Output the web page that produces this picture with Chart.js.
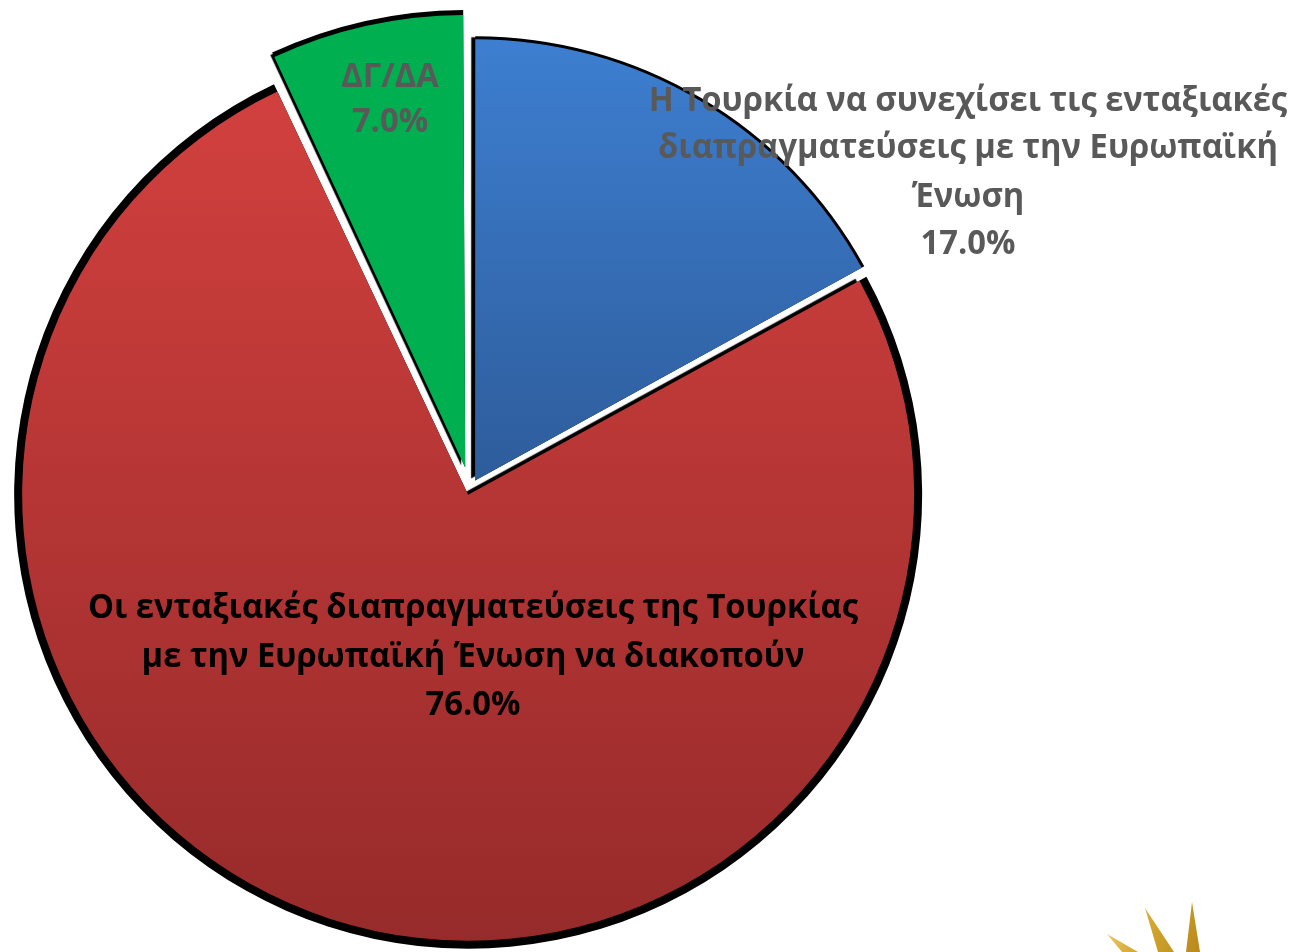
<!DOCTYPE html>
<html>
<head>
<meta charset="utf-8">
<script src="https://cdn.jsdelivr.net/npm/chart.js@4"></script>
<style>
html,body{margin:0;padding:0;background:#fff;}
#wrap{width:1303px;height:952px;position:relative;}
</style>
</head>
<body>
<div id="wrap"><canvas id="c" width="1303" height="952"></canvas></div>
<script>
const categories = [
  "Η Τουρκία να συνεχίσει τις ενταξιακές διαπραγματεύσεις με την Ευρωπαϊκή Ένωση",
  "Οι ενταξιακές διαπραγματεύσεις της Τουρκίας με την Ευρωπαϊκή Ένωση να διακοπούν",
  "ΔΓ/ΔΑ"
];
const values = [17.0, 76.0, 7.0];
const labelLines = [
  ["Η Τουρκία να συνεχίσει τις ενταξιακές", "διαπραγματεύσεις με την Ευρωπαϊκή", "Ένωση"],
  ["Οι ενταξιακές διαπραγματεύσεις της Τουρκίας", "με την Ευρωπαϊκή Ένωση να διακοπούν"],
  ["ΔΓ/ΔΑ"]
];

const FONT = '"Open Sans", "Noto Sans", sans-serif';
const RIM = [3, 8, 5]; // thickness of the black rim drawn behind each slice

function sliceFill(ctx) {
  const chart = ctx.chart;
  const c = chart.ctx;
  const i = ctx.dataIndex;
  if (i === 0) {
    const g = c.createLinearGradient(0, 30, 0, 480);
    g.addColorStop(0, '#3e80d3');
    g.addColorStop(1, '#2e5d9c');
    return g;
  }
  if (i === 1) {
    const g = c.createLinearGradient(0, 90, 0, 945);
    g.addColorStop(0, '#d1403e');
    g.addColorStop(1, '#962a2a');
    return g;
  }
  return '#00b050';
}

const shadowPlugin = {
  id: 'shadow',
  beforeDatasetsDraw(chart) {
    const c = chart.ctx;
    // black rim behind each slice, drawn by the library's own arc element
    const meta = chart.getDatasetMeta(0);
    meta.data.forEach((el, i) => {
      const rim = Object.assign(Object.create(Object.getPrototypeOf(el)), el);
      rim.outerRadius = el.outerRadius + RIM[i];
      rim.options = Object.assign({}, el.options, { backgroundColor: '#000000', borderWidth: 0 });
      rim.draw(c);
    });
    c.save();
    c.shadowColor = 'rgba(0,0,0,1)';
    c.shadowBlur = 1;
    c.shadowOffsetX = -4;
    c.shadowOffsetY = -2;
  },
  afterDatasetsDraw(chart) {
    chart.ctx.restore();
  }
};

function drawLines(c, lines, cx, ys, size, sx) {
  const cap = size * 0.36;
  lines.forEach((t, k) => {
    c.save();
    c.translate(cx, ys[k] + cap);
    c.scale(sx, 1);
    c.fillText(t, 0, 0);
    c.restore();
  });
}

const labelPlugin = {
  id: 'labels',
  afterDatasetsDraw(chart) {
    const c = chart.ctx;
    c.save();
    const size = 34;
    c.font = 'bold ' + size + 'px ' + FONT;
    const w = c.measureText(labelLines[1][0]).width;
    const sx = 770 / w;
    c.textAlign = 'center';
    c.textBaseline = 'alphabetic';
    const pct = values.map(v => v.toFixed(1) + '%');
    c.fillStyle = '#595959';
    drawLines(c, labelLines[0].concat([pct[0]]), 968, [99, 146, 195, 242], size, sx);
    c.fillStyle = '#000000';
    drawLines(c, labelLines[1].concat([pct[1]]), 473, [606, 655, 703], size, sx);
    c.fillStyle = '#595959';
    drawLines(c, labelLines[2].concat([pct[2]]), 390, [75, 120], size, sx);
    c.restore();
  }
};

const decoPlugin = {
  id: 'deco',
  afterDraw(chart) {
    const c = chart.ctx;
    c.save();
    const g = c.createLinearGradient(1100, 900, 1200, 952);
    g.addColorStop(0, '#f3dd8a');
    g.addColorStop(0.5, '#d3a62e');
    g.addColorStop(1, '#b8891c');
    c.fillStyle = g;
    const spikes = [
      [[1192, 902], [1186, 952], [1200, 952]],
      [[1145, 908], [1158, 952], [1174, 952]],
      [[1107, 934], [1122, 952], [1138, 952]]
    ];
    spikes.forEach(s => {
      c.beginPath();
      c.moveTo(s[0][0], s[0][1]);
      c.lineTo(s[1][0], s[1][1]);
      c.lineTo(s[2][0], s[2][1]);
      c.closePath();
      c.fill();
    });
    c.restore();
  }
};

new Chart(document.getElementById('c'), {
  type: 'pie',
  data: {
    labels: categories,
    datasets: [{
      data: values,
      backgroundColor: sliceFill,
      borderWidth: 0,
      offset: [40, 24, 88],
      clip: false
    }]
  },
  options: {
    responsive: false,
    animation: false,
    events: [],
    radius: 440,
    layout: { padding: { left: 0, right: 363, top: 26, bottom: 0 } },
    plugins: {
      legend: { display: false },
      tooltip: { enabled: false },
      title: { display: false }
    }
  },
  plugins: [shadowPlugin, labelPlugin, decoPlugin]
});
</script>
</body>
</html>
